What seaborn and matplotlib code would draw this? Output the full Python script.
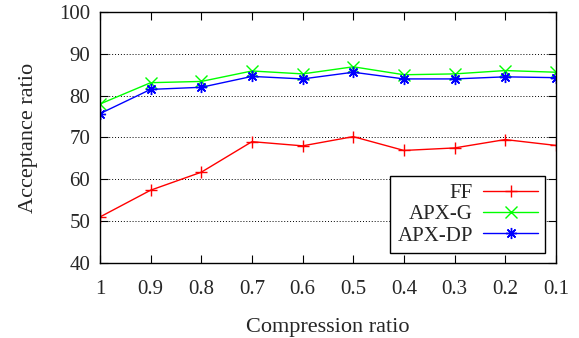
import pandas as pd
import seaborn as sns
import matplotlib
matplotlib.use("Agg")
import matplotlib.pyplot as plt

# values
compression = [1, 0.9, 0.8, 0.7, 0.6, 0.5, 0.4, 0.3, 0.2, 0.1]
tick_labels = ["1", "0.9", "0.8", "0.7", "0.6", "0.5", "0.4", "0.3", "0.2", "0.1"]
ff = [51.0, 57.4, 61.7, 69.0, 68.0, 70.2, 66.9, 67.5, 69.5, 68.1]
apx_g = [78.0, 83.1, 83.4, 85.9, 85.2, 86.9, 85.0, 85.2, 86.0, 85.6]
apx_dp = [75.7, 81.5, 82.0, 84.6, 84.0, 85.6, 84.0, 84.0, 84.5, 84.3]

sns.set_style("ticks")
plt.rcParams['font.family'] = ['Liberation Serif', 'DejaVu Serif']

fig = plt.figure(figsize=(5.79, 3.38), dpi=100)
ax = fig.add_axes([0.1727, 0.222, 0.7873, 0.7425])

series = [("FF", ff, "#ff0000", "+"),
          ("APX-G", apx_g, "#00ff00", "x"),
          ("APX-DP", apx_dp, "#0000ff", (8, 2, 0))]
for name, vals, col, mk in series:
    df = pd.DataFrame({"x": compression, "y": vals})
    sns.lineplot(data=df, x="x", y="y", ax=ax, color=col, marker=mk,
                 markersize=8, markeredgewidth=1.0, linewidth=1.0,
                 label=name, markeredgecolor=col)

ax.set_xlim(1, 0.1)
ax.set_ylim(40, 100)
ax.set_xticks(compression)
ax.set_xticklabels(tick_labels)
ax.set_yticks([40, 50, 60, 70, 80, 90, 100])
ax.tick_params(direction="in", length=6, width=0.8, labelsize=15,
               top=True, right=True, color="black")
ax.tick_params(axis="x", pad=12)
ax.tick_params(axis="y", pad=7)
for sp in ax.spines.values():
    sp.set_linewidth(1.0)
    sp.set_color("black")
ax.yaxis.grid(True, linestyle=(0, (1, 2)), color="black", linewidth=0.7)

ax.set_xlabel("Compression ratio", fontsize=16, labelpad=14)
ax.set_ylabel("Acceptance ratio", fontsize=16, labelpad=15)

leg = ax.legend(loc="lower right", markerfirst=False, fontsize=15,
                frameon=True, fancybox=False, edgecolor="black",
                framealpha=1, handlelength=2.6, borderpad=0.35,
                labelspacing=0.08, handletextpad=0.5,
                borderaxespad=0, bbox_to_anchor=(0.976, 0.04))
leg.get_frame().set_linewidth(1.0)

fig.savefig("out.png", dpi=100)
